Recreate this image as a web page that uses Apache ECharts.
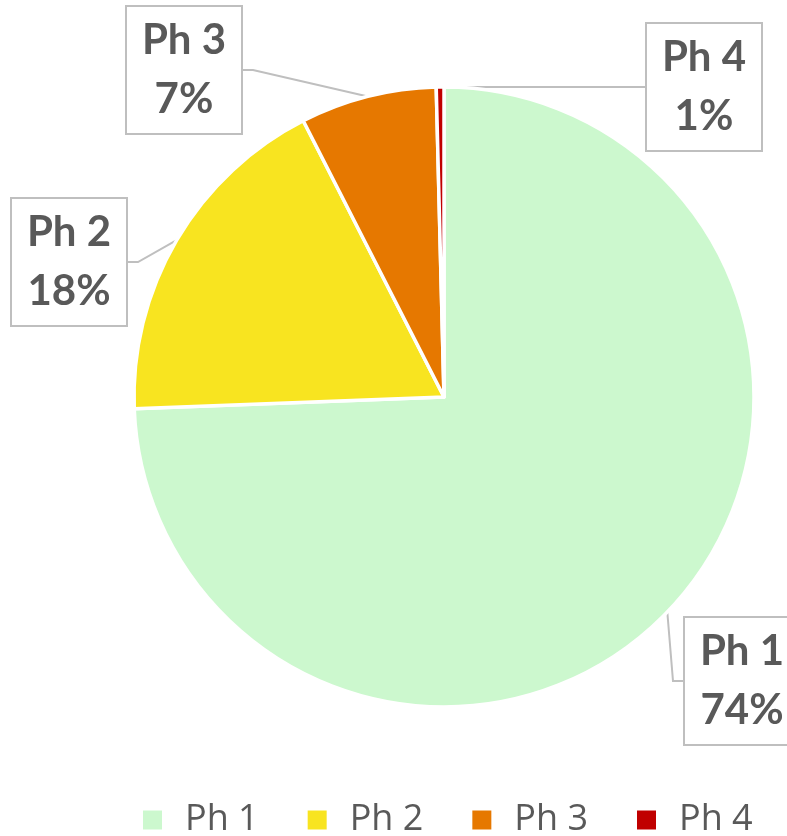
<!DOCTYPE html>
<html>
<head>
<meta charset="utf-8">
<script src="https://cdn.jsdelivr.net/npm/echarts@6/dist/echarts.min.js"></script>
<style>
html,body{margin:0;padding:0;background:#fff;}
#chart{width:787px;height:836px;}
</style>
</head>
<body>
<div id="chart"></div>
<script>
const categories = ['Ph 1', 'Ph 2', 'Ph 3', 'Ph 4'];
const values = [74.4, 18.1, 7.1, 0.4];
const percentLabels = ['74%', '18%', '7%', '1%'];
const colors = ['#CCF8CE', '#F8E420', '#E67800', '#C00000'];

// label box centres (layout only)
const labelBoxes = [[742, 681], [69, 262], [184, 70], [704, 87]];

const chart = echarts.init(document.getElementById('chart'), null, {renderer: 'canvas'});
chart.setOption({
  animation: false,
  color: colors,
  legend: {
    data: categories,
    left: 138,
    top: 795,
    padding: 5,
    icon: 'rect',
    itemWidth: 19,
    itemHeight: 19,
    itemGap: 49,
    itemStyle: {borderWidth: 0},
    textStyle: {
      fontFamily: '"Open Sans", sans-serif',
      fontSize: 36,
      color: '#595959',
      lineHeight: 40,
      padding: [0, 0, 0, 18]
    }
  },
  series: [{
    type: 'pie',
    center: [444, 397],
    radius: 310,
    startAngle: 90,
    clockwise: true,
    data: categories.map((c, i) => ({name: c, value: values[i]})),
    itemStyle: {borderColor: '#fff', borderWidth: 3.5},
    label: {
      show: true,
      position: 'outside',
      formatter: p => p.name + '\n' + percentLabels[p.dataIndex],
      fontFamily: 'Lato, sans-serif',
      fontWeight: 'bold',
      fontSize: 42,
      lineHeight: 59,
      color: '#595959',
      backgroundColor: '#fff',
      borderColor: '#bfbfbf',
      borderWidth: 2,
      width: 110,
      height: 118,
      padding: [4, 2, 4, 2],
      align: 'center'
    },
    labelLine: {
      show: true,
      length: 10,
      length2: 10,
      lineStyle: {color: '#bfbfbf', width: 2}
    },
    labelLayout: function (params) {
      const b = labelBoxes[params.dataIndex];
      return {x: b[0], y: b[1], align: 'center', verticalAlign: 'middle'};
    }
  }]
});
</script>
</body>
</html>
